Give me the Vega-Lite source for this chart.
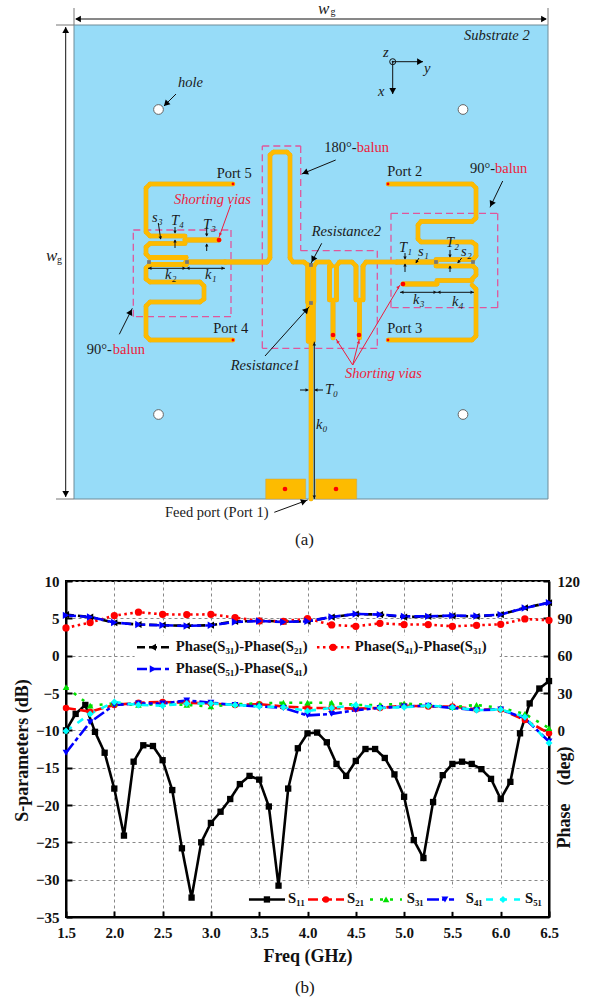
{"$schema":"https://vega.github.io/schema/vega-lite/v6.json","background":"white","padding":{"left":12,"top":0,"right":0,"bottom":0},"autosize":{"type":"pad"},"spacing":0,"bounds":"flush","config":{"view":{"stroke":null},"font":"Liberation Serif"},
"datasets":{
"board":[{"u":74,"v":25,"u2":548,"v2":499}],
"pads":[{"u":265.7,"v":479,"u2":305.7,"v2":499},{"u":315.7,"v":479,"u2":356.7,"v2":499}],
"boxes":[{"u":133.3,"v":230,"u2":231,"v2":230},{"u":231,"v":230,"u2":231,"v2":316.7},{"u":231,"v":316.7,"u2":133.3,"v2":316.7},{"u":133.3,"v":316.7,"u2":133.3,"v2":230},{"u":262.3,"v":146,"u2":300.7,"v2":146},{"u":300.7,"v":146,"u2":300.7,"v2":250.7},{"u":300.7,"v":250.7,"u2":377.3,"v2":250.7},{"u":377.3,"v":250.7,"u2":377.3,"v2":348.3},{"u":377.3,"v":348.3,"u2":262.3,"v2":348.3},{"u":262.3,"v":348.3,"u2":262.3,"v2":146},{"u":391,"v":213.3,"u2":497.7,"v2":213.3},{"u":497.7,"v":213.3,"u2":497.7,"v2":307.7},{"u":497.7,"v":307.7,"u2":391,"v2":307.7},{"u":391,"v":307.7,"u2":391,"v2":213.3}],
"wires":[
{"k":"t","u":233,"v":184,"u2":150,"v2":184},{"k":"t","u":150,"v":184,"u2":146,"v2":188},{"k":"t","u":146,"v":188,"u2":146,"v2":232},{"k":"t","u":146,"v":232,"u2":150,"v2":236},
{"k":"w","u":150,"v":236,"u2":185,"v2":236},{"k":"m","u":185,"v":240,"u2":219,"v2":240},{"k":"w","u":150,"v":243.5,"u2":185,"v2":243.5},
{"k":"t","u":150,"v":243.5,"u2":146,"v2":247},{"k":"t","u":146,"v":247,"u2":146,"v2":254},{"k":"t","u":146,"v":254,"u2":150,"v2":258},{"k":"m","u":150,"v":257.5,"u2":186,"v2":257.5},
{"k":"s","u":186,"v":262,"u2":225,"v2":262},{"k":"s","u":150,"v":264.5,"u2":186,"v2":264.5},
{"k":"t","u":150,"v":264.5,"u2":146,"v2":268},{"k":"t","u":146,"v":268,"u2":146,"v2":279},{"k":"t","u":146,"v":279,"u2":150,"v2":282},{"k":"t","u":150,"v":282,"u2":200,"v2":282},{"k":"t","u":200,"v":282,"u2":204,"v2":286},{"k":"t","u":204,"v":286,"u2":204,"v2":299},{"k":"t","u":204,"v":299,"u2":200,"v2":302},{"k":"t","u":200,"v":302,"u2":150,"v2":302},{"k":"t","u":150,"v":302,"u2":146,"v2":306},{"k":"t","u":146,"v":306,"u2":146,"v2":336},{"k":"t","u":146,"v":336,"u2":150,"v2":340},{"k":"t","u":150,"v":340,"u2":233,"v2":340},
{"k":"m","u":225,"v":262,"u2":267,"v2":262},{"k":"t","u":267,"v":262,"u2":270,"v2":258},{"k":"t","u":270,"v":258,"u2":270,"v2":155},{"k":"t","u":270,"v":155,"u2":273.5,"v2":152},{"k":"t","u":273.5,"v":152,"u2":287,"v2":152},{"k":"t","u":287,"v":152,"u2":290,"v2":155},{"k":"t","u":290,"v":155,"u2":290,"v2":258},{"k":"t","u":290,"v":258,"u2":293,"v2":262},{"k":"t","u":293,"v":262,"u2":304,"v2":262},{"k":"t","u":304,"v":262,"u2":307.5,"v2":265},
{"k":"s","u":308,"v":265,"u2":308,"v2":302},{"k":"s","u":313.5,"v":266,"u2":313.5,"v2":302},{"k":"s","u":308.5,"v":303,"u2":308.5,"v2":341},{"k":"s","u":313,"v":303,"u2":313,"v2":341},{"k":"t","u":311,"v":341,"u2":311,"v2":499},
{"k":"t","u":314,"v":266,"u2":317,"v2":262},{"k":"t","u":317,"v":262,"u2":329,"v2":262},{"k":"t","u":329,"v":262,"u2":332,"v2":266},
{"k":"w","u":329.5,"v":266,"u2":329.5,"v2":300},{"k":"w","u":336.5,"v":266,"u2":336.5,"v2":300},{"k":"w","u":333,"v":300,"u2":333,"v2":338},
{"k":"t","u":336.5,"v":266,"u2":339.5,"v2":262},{"k":"t","u":339.5,"v":262,"u2":352,"v2":262},{"k":"t","u":352,"v":262,"u2":356,"v2":266},
{"k":"w","u":356,"v":266,"u2":356,"v2":300},{"k":"w","u":363,"v":266,"u2":363,"v2":300},{"k":"w","u":359.5,"v":300,"u2":359.5,"v2":338},
{"k":"t","u":363,"v":266,"u2":366,"v2":262},{"k":"t","u":366,"v":262,"u2":397,"v2":262},{"k":"s","u":397,"v":262,"u2":436,"v2":262},
{"k":"w","u":436,"v":259.5,"u2":473,"v2":259.5},{"k":"w","u":436,"v":266,"u2":473,"v2":266},
{"k":"t","u":473,"v":259.5,"u2":476,"v2":256},{"k":"t","u":476,"v":256,"u2":476,"v2":245},{"k":"t","u":476,"v":245,"u2":472,"v2":242},{"k":"t","u":472,"v":242,"u2":421,"v2":242},{"k":"t","u":421,"v":242,"u2":418,"v2":239},{"k":"t","u":418,"v":239,"u2":418,"v2":225},{"k":"t","u":418,"v":225,"u2":421,"v2":221.5},{"k":"t","u":421,"v":221.5,"u2":472,"v2":221.5},{"k":"t","u":472,"v":221.5,"u2":476,"v2":218},{"k":"t","u":476,"v":218,"u2":476,"v2":188},{"k":"t","u":476,"v":188,"u2":472,"v2":184},{"k":"t","u":472,"v":184,"u2":388,"v2":184},
{"k":"t","u":473,"v":266,"u2":476,"v2":269},{"k":"t","u":476,"v":269,"u2":476,"v2":275},{"k":"t","u":476,"v":275,"u2":472,"v2":279},{"k":"w","u":472,"v":280.5,"u2":437,"v2":280.5},{"k":"m","u":437,"v":284,"u2":403,"v2":284},{"k":"t","u":472,"v":285,"u2":476,"v2":289},{"k":"t","u":476,"v":289,"u2":476,"v2":336},{"k":"t","u":476,"v":336,"u2":472,"v2":340},{"k":"t","u":472,"v":340,"u2":388,"v2":340}],
"leaders":[
{"c":"g","u":74,"v":8,"u2":74,"v2":25},{"c":"g","u":548,"v":8,"u2":548,"v2":25},{"c":"g","u":56,"v":25,"u2":74,"v2":25},{"c":"g","u":56,"v":499,"u2":74,"v2":499},
{"c":"b","u":76,"v":19,"u2":546,"v2":19},{"c":"b","u":65.7,"v":27,"u2":65.7,"v2":497},
{"c":"b","u":176,"v":94,"u2":164,"v2":106},{"c":"b","u":335.7,"v":160,"u2":301.7,"v2":174},{"c":"b","u":502.7,"v":181,"u2":490,"v2":207.3},{"c":"b","u":119.3,"v":334.3,"u2":132.3,"v2":308.3},{"c":"b","u":321.7,"v":243.3,"u2":311,"v2":263.3},{"c":"b","u":265,"v":356,"u2":309.3,"v2":306.7},{"c":"b","u":274.3,"v":512.3,"u2":307.7,"v2":500},
{"c":"b","u":392.7,"v":61.7,"u2":423,"v2":61.7},{"c":"b","u":392.7,"v":61.7,"u2":392.7,"v2":94},
{"c":"b","u":148,"v":268.3,"u2":186,"v2":268.3},{"c":"b","u":186,"v":268.3,"u2":225,"v2":268.3},{"c":"b","u":400,"v":292.3,"u2":437,"v2":292.3},{"c":"b","u":437,"v":292.3,"u2":474,"v2":292.3},
{"c":"b","u":175,"v":227,"u2":175,"v2":233},{"c":"b","u":175,"v":248,"u2":175,"v2":240},{"c":"b","u":206.7,"v":227,"u2":206.7,"v2":236},{"c":"b","u":206.7,"v":251,"u2":206.7,"v2":244},{"c":"b","u":158.3,"v":223,"u2":160.7,"v2":239},
{"c":"b","u":405,"v":253,"u2":405,"v2":259},{"c":"b","u":405,"v":272,"u2":405,"v2":264},{"c":"b","u":419,"v":258,"u2":416,"v2":263},{"c":"b","u":450,"v":250,"u2":450,"v2":257},{"c":"b","u":450,"v":272,"u2":450,"v2":266},{"c":"b","u":461.7,"v":258,"u2":457.7,"v2":263},
{"c":"b","u":300,"v":390,"u2":308.3,"v2":390},{"c":"b","u":323,"v":390,"u2":315,"v2":390},{"c":"b","u":314.3,"v":341.7,"u2":314.3,"v2":499},
{"c":"r","u":230.7,"v":205,"u2":219,"v2":237.3},{"c":"r","u":352.7,"v":365,"u2":336,"v2":339},{"c":"r","u":352.7,"v":365,"u2":359.3,"v2":339},{"c":"r","u":352.7,"v":365,"u2":400,"v2":285}],
"bigHeads":[{"u":78,"v":19,"a":270},{"u":544,"v":19,"a":90},{"u":65.7,"v":30,"a":0},{"u":65.7,"v":494,"a":180},{"u":166,"v":104,"a":225},{"u":305,"v":172.6,"a":247.6},{"u":491.5,"v":204,"a":206},{"u":130.5,"v":312,"a":26.6},{"u":313,"v":259.5,"a":208},{"u":306.5,"v":309.8,"a":42},{"u":304,"v":501.4,"a":70},{"u":420,"v":61.7,"a":90},{"u":392.7,"v":91,"a":180}],
"smallHeads":[{"c":"b","u":150,"v":268.3,"a":270},{"c":"b","u":184,"v":268.3,"a":90},{"c":"b","u":188,"v":268.3,"a":270},{"c":"b","u":223,"v":268.3,"a":90},{"c":"b","u":402,"v":292.3,"a":270},{"c":"b","u":435,"v":292.3,"a":90},{"c":"b","u":439,"v":292.3,"a":270},{"c":"b","u":472,"v":292.3,"a":90},{"c":"b","u":175,"v":232,"a":180},{"c":"b","u":175,"v":241,"a":0},{"c":"b","u":206.7,"v":235,"a":180},{"c":"b","u":206.7,"v":245,"a":0},{"c":"b","u":160.5,"v":238,"a":172},{"c":"b","u":405,"v":258,"a":180},{"c":"b","u":405,"v":265,"a":0},{"c":"b","u":416.5,"v":262,"a":211},{"c":"b","u":450,"v":256,"a":180},{"c":"b","u":450,"v":267,"a":0},{"c":"b","u":458.5,"v":262,"a":219},{"c":"b","u":307,"v":390,"a":90},{"c":"b","u":316,"v":390,"a":270},{"c":"b","u":314.3,"v":344,"a":0},{"c":"b","u":314.3,"v":497,"a":180},{"c":"r","u":220,"v":234.5,"a":200},{"c":"r","u":337.5,"v":341.5,"a":327},{"c":"r","u":358.8,"v":342,"a":14},{"c":"r","u":398.5,"v":287,"a":41}],
"holes":[{"u":158.5,"v":109.5},{"u":463,"v":109.5},{"u":158.5,"v":414.5},{"u":463,"v":414.5}],
"vias":[{"k":"p","u":233,"v":184},{"k":"p","u":388,"v":184},{"k":"p","u":233,"v":340},{"k":"p","u":388,"v":340},{"k":"v","u":219,"v":240},{"k":"v","u":403,"v":284},{"k":"v","u":333,"v":335},{"k":"v","u":359,"v":335},{"k":"v","u":285,"v":489},{"k":"v","u":336,"v":489}],
"resistors":[{"u":149,"v":262},{"u":187,"v":262},{"u":311,"v":265},{"u":311,"v":303},{"u":436,"v":262},{"u":473,"v":262}],
"origin":[{"u":392.7,"v":61.7}],
"plainText":[{"u":216.7,"v":174,"t":"Port 5"},{"u":387.3,"v":172.3,"t":"Port 2"},{"u":213.3,"v":329,"t":"Port 4"},{"u":387.3,"v":329,"t":"Port 3"},{"u":324.3,"v":148,"t":"180°-"},{"u":470,"v":169,"t":"90°-"},{"u":86.7,"v":350,"t":"90°-"},{"u":165,"v":513,"t":"Feed port (Port 1)"}],
"captionA":[{"u":295,"v":540,"t":"(a)"}],
"redText":[{"u":356.7,"v":148,"t":"balun"},{"u":495,"v":169,"t":"balun"},{"u":112.7,"v":350,"t":"balun"}],
"italicText":[{"u":178,"v":83,"t":"hole"},{"u":464,"v":36,"t":"Substrate 2"},{"u":383,"v":52.7,"t":"z"},{"u":424,"v":69.3,"t":"y"},{"u":378,"v":92.3,"t":"x"},{"u":311.7,"v":231.7,"t":"Resistance2"},{"u":230.7,"v":365.7,"t":"Resistance1"},{"u":152,"v":218,"t":"s₃"},{"u":171,"v":221,"t":"T₄"},{"u":203,"v":225,"t":"T₃"},{"u":165,"v":275,"t":"k₂"},{"u":205,"v":275,"t":"k₁"},{"u":399,"v":248,"t":"T₁"},{"u":418,"v":252,"t":"s₁"},{"u":446,"v":243,"t":"T₂"},{"u":461,"v":252,"t":"s₂"},{"u":413,"v":300,"t":"k₃"},{"u":452,"v":302,"t":"k₄"},{"u":325,"v":390,"t":"T₀"},{"u":316,"v":425,"t":"k₀"}],
"bigItalic":[{"u":318,"v":9,"t":"w"},{"u":46,"v":256,"t":"w"}],
"redItalicText":[{"u":174,"v":200,"t":"Shorting vias"},{"u":345,"v":374,"t":"Shorting vias"}],
"subText":[{"u":330.5,"v":12,"t":"g"},{"u":57,"v":260,"t":"g"}],
"curves":[
{"series":"S11","freq":1.5,"value":-10},{"series":"S11","freq":1.6,"value":-7.8},{"series":"S11","freq":1.7,"value":-6.6},{"series":"S11","freq":1.8,"value":-10.2},{"series":"S11","freq":1.9,"value":-13},{"series":"S11","freq":2.0,"value":-17.8},{"series":"S11","freq":2.1,"value":-24.1},{"series":"S11","freq":2.2,"value":-14.2},{"series":"S11","freq":2.3,"value":-12},{"series":"S11","freq":2.4,"value":-12.1},{"series":"S11","freq":2.5,"value":-14},{"series":"S11","freq":2.6,"value":-18},{"series":"S11","freq":2.7,"value":-25.8},{"series":"S11","freq":2.8,"value":-32.4},{"series":"S11","freq":2.9,"value":-25},{"series":"S11","freq":3.0,"value":-22.4},{"series":"S11","freq":3.1,"value":-20.9},{"series":"S11","freq":3.2,"value":-19.2},{"series":"S11","freq":3.3,"value":-17.2},{"series":"S11","freq":3.4,"value":-16.1},{"series":"S11","freq":3.5,"value":-16.6},{"series":"S11","freq":3.6,"value":-20.2},{"series":"S11","freq":3.7,"value":-30.8},{"series":"S11","freq":3.8,"value":-17.8},{"series":"S11","freq":3.9,"value":-12.4},{"series":"S11","freq":4.0,"value":-10.4},{"series":"S11","freq":4.1,"value":-10.3},{"series":"S11","freq":4.2,"value":-11.6},{"series":"S11","freq":4.3,"value":-14.5},{"series":"S11","freq":4.4,"value":-16.1},{"series":"S11","freq":4.5,"value":-14.1},{"series":"S11","freq":4.6,"value":-12.5},{"series":"S11","freq":4.7,"value":-12.5},{"series":"S11","freq":4.8,"value":-13.7},{"series":"S11","freq":4.9,"value":-15.9},{"series":"S11","freq":5.0,"value":-18.9},{"series":"S11","freq":5.1,"value":-24.7},{"series":"S11","freq":5.2,"value":-27.1},{"series":"S11","freq":5.3,"value":-19.6},{"series":"S11","freq":5.4,"value":-16},{"series":"S11","freq":5.5,"value":-14.5},{"series":"S11","freq":5.6,"value":-14.2},{"series":"S11","freq":5.7,"value":-14.5},{"series":"S11","freq":5.8,"value":-15.2},{"series":"S11","freq":5.9,"value":-16.5},{"series":"S11","freq":6.0,"value":-19.2},{"series":"S11","freq":6.1,"value":-16.9},{"series":"S11","freq":6.2,"value":-10.4},{"series":"S11","freq":6.3,"value":-6.4},{"series":"S11","freq":6.4,"value":-4.4},{"series":"S11","freq":6.5,"value":-3.4},
{"series":"S21","freq":1.5,"value":-7},{"series":"S21","freq":1.75,"value":-7.5},{"series":"S21","freq":2.0,"value":-6.6},{"series":"S21","freq":2.25,"value":-6.3},{"series":"S21","freq":2.5,"value":-6.2},{"series":"S21","freq":2.75,"value":-6.3},{"series":"S21","freq":3.0,"value":-6.4},{"series":"S21","freq":3.25,"value":-6.6},{"series":"S21","freq":3.5,"value":-6.5},{"series":"S21","freq":3.75,"value":-6.8},{"series":"S21","freq":4.0,"value":-7},{"series":"S21","freq":4.25,"value":-7},{"series":"S21","freq":4.5,"value":-7.1},{"series":"S21","freq":4.75,"value":-7},{"series":"S21","freq":5.0,"value":-6.7},{"series":"S21","freq":5.25,"value":-6.8},{"series":"S21","freq":5.5,"value":-6.8},{"series":"S21","freq":5.75,"value":-7.2},{"series":"S21","freq":6.0,"value":-7.2},{"series":"S21","freq":6.25,"value":-8.6},{"series":"S21","freq":6.5,"value":-10.4},
{"series":"S31","freq":1.5,"value":-4.2},{"series":"S31","freq":1.75,"value":-6.7},{"series":"S31","freq":2.0,"value":-6.4},{"series":"S31","freq":2.25,"value":-6.6},{"series":"S31","freq":2.5,"value":-6.5},{"series":"S31","freq":2.75,"value":-6.6},{"series":"S31","freq":3.0,"value":-6.8},{"series":"S31","freq":3.25,"value":-6.5},{"series":"S31","freq":3.5,"value":-6.4},{"series":"S31","freq":3.75,"value":-6.3},{"series":"S31","freq":4.0,"value":-6.3},{"series":"S31","freq":4.25,"value":-6.3},{"series":"S31","freq":4.5,"value":-6.6},{"series":"S31","freq":4.75,"value":-6.6},{"series":"S31","freq":5.0,"value":-6.4},{"series":"S31","freq":5.25,"value":-6.6},{"series":"S31","freq":5.5,"value":-6.9},{"series":"S31","freq":5.75,"value":-6.6},{"series":"S31","freq":6.0,"value":-7},{"series":"S31","freq":6.25,"value":-7.8},{"series":"S31","freq":6.5,"value":-9.7},
{"series":"S41","freq":1.5,"value":-13},{"series":"S41","freq":1.75,"value":-8.9},{"series":"S41","freq":2.0,"value":-6.6},{"series":"S41","freq":2.25,"value":-6.4},{"series":"S41","freq":2.5,"value":-6.4},{"series":"S41","freq":2.75,"value":-6},{"series":"S41","freq":3.0,"value":-6.3},{"series":"S41","freq":3.25,"value":-6.6},{"series":"S41","freq":3.5,"value":-6.8},{"series":"S41","freq":3.75,"value":-7},{"series":"S41","freq":4.0,"value":-8},{"series":"S41","freq":4.25,"value":-7.8},{"series":"S41","freq":4.5,"value":-7.3},{"series":"S41","freq":4.75,"value":-7},{"series":"S41","freq":5.0,"value":-6.8},{"series":"S41","freq":5.25,"value":-6.7},{"series":"S41","freq":5.5,"value":-7},{"series":"S41","freq":5.75,"value":-7.3},{"series":"S41","freq":6.0,"value":-7.2},{"series":"S41","freq":6.25,"value":-8.4},{"series":"S41","freq":6.5,"value":-11.5},
{"series":"S51","freq":1.5,"value":-10.1},{"series":"S51","freq":1.75,"value":-7.8},{"series":"S51","freq":2.0,"value":-6.2},{"series":"S51","freq":2.25,"value":-6.6},{"series":"S51","freq":2.5,"value":-6.7},{"series":"S51","freq":2.75,"value":-6.4},{"series":"S51","freq":3.0,"value":-6.4},{"series":"S51","freq":3.25,"value":-6.6},{"series":"S51","freq":3.5,"value":-6.8},{"series":"S51","freq":3.75,"value":-6.9},{"series":"S51","freq":4.0,"value":-7.4},{"series":"S51","freq":4.25,"value":-7},{"series":"S51","freq":4.5,"value":-6.6},{"series":"S51","freq":4.75,"value":-7},{"series":"S51","freq":5.0,"value":-6.9},{"series":"S51","freq":5.25,"value":-6.7},{"series":"S51","freq":5.5,"value":-6.9},{"series":"S51","freq":5.75,"value":-7.3},{"series":"S51","freq":6.0,"value":-7.2},{"series":"S51","freq":6.25,"value":-8.2},{"series":"S51","freq":6.5,"value":-11.7}],
"phases":[
{"series":"P31","freq":1.5,"deg":93},{"series":"P31","freq":1.75,"deg":91},{"series":"P31","freq":2.0,"deg":86.5},{"series":"P31","freq":2.25,"deg":85},{"series":"P31","freq":2.5,"deg":84.5},{"series":"P31","freq":2.75,"deg":84},{"series":"P31","freq":3.0,"deg":84.5},{"series":"P31","freq":3.25,"deg":87.5},{"series":"P31","freq":3.5,"deg":88},{"series":"P31","freq":3.75,"deg":87.5},{"series":"P31","freq":4.0,"deg":87.5},{"series":"P31","freq":4.25,"deg":91},{"series":"P31","freq":4.5,"deg":93.5},{"series":"P31","freq":4.75,"deg":93},{"series":"P31","freq":5.0,"deg":91},{"series":"P31","freq":5.25,"deg":91.5},{"series":"P31","freq":5.5,"deg":92},{"series":"P31","freq":5.75,"deg":91.5},{"series":"P31","freq":6.0,"deg":93},{"series":"P31","freq":6.25,"deg":98.5},{"series":"P31","freq":6.5,"deg":102.5},
{"series":"P41","freq":1.5,"deg":82.3},{"series":"P41","freq":1.75,"deg":86.6},{"series":"P41","freq":2.0,"deg":92.2},{"series":"P41","freq":2.25,"deg":94.9},{"series":"P41","freq":2.5,"deg":93.2},{"series":"P41","freq":2.75,"deg":93},{"series":"P41","freq":3.0,"deg":93.2},{"series":"P41","freq":3.25,"deg":90.6},{"series":"P41","freq":3.5,"deg":87.9},{"series":"P41","freq":3.75,"deg":87.6},{"series":"P41","freq":4.0,"deg":89.8},{"series":"P41","freq":4.25,"deg":84.7},{"series":"P41","freq":4.5,"deg":83.6},{"series":"P41","freq":4.75,"deg":86},{"series":"P41","freq":5.0,"deg":85},{"series":"P41","freq":5.25,"deg":85},{"series":"P41","freq":5.5,"deg":83.6},{"series":"P41","freq":5.75,"deg":84.4},{"series":"P41","freq":6.0,"deg":85.2},{"series":"P41","freq":6.25,"deg":89.5},{"series":"P41","freq":6.5,"deg":88.4},
{"series":"P51","freq":1.5,"deg":92.4},{"series":"P51","freq":1.75,"deg":91.1},{"series":"P51","freq":2.0,"deg":86.6},{"series":"P51","freq":2.25,"deg":85},{"series":"P51","freq":2.5,"deg":84.4},{"series":"P51","freq":2.75,"deg":83.9},{"series":"P51","freq":3.0,"deg":84.4},{"series":"P51","freq":3.25,"deg":87.1},{"series":"P51","freq":3.5,"deg":87.9},{"series":"P51","freq":3.75,"deg":87.1},{"series":"P51","freq":4.0,"deg":87.6},{"series":"P51","freq":4.25,"deg":91.1},{"series":"P51","freq":4.5,"deg":93.5},{"series":"P51","freq":4.75,"deg":93},{"series":"P51","freq":5.0,"deg":91.6},{"series":"P51","freq":5.25,"deg":91.6},{"series":"P51","freq":5.5,"deg":92.2},{"series":"P51","freq":5.75,"deg":91.9},{"series":"P51","freq":6.0,"deg":93},{"series":"P51","freq":6.25,"deg":98.3},{"series":"P51","freq":6.5,"deg":102.6}],
"legendBoxes":[{"f":2.21,"f2":5.99,"d":2.7,"d2":-3.3},{"f":3.37,"f2":6.46,"d":-31.1,"d2":-34.3}],
"legendLines":[{"series":"P31","f":2.235,"f2":2.566,"d":1.12},{"series":"P41","f":4.098,"f2":4.44,"d":1.12},{"series":"P51","f":2.235,"f2":2.566,"d":-1.78},{"series":"S11","f":3.394,"f2":3.767,"d":-32.65},{"series":"S21","f":4.005,"f2":4.378,"d":-32.65},{"series":"S31","f":4.647,"f2":4.978,"d":-32.65},{"series":"S41","f":5.237,"f2":5.517,"d":-32.65},{"series":"S51","f":5.848,"f2":6.2,"d":-32.65}],
"legendMarks":[{"series":"P31","f":2.4,"d":1.12},{"series":"P41","f":4.264,"d":1.12},{"series":"P51","f":2.4,"d":-1.78},{"series":"S11","f":3.58,"d":-32.65},{"series":"S21","f":4.19,"d":-32.65},{"series":"S31","f":4.813,"d":-32.65},{"series":"S41","f":5.423,"d":-32.65},{"series":"S51","f":6.024,"d":-32.65}],
"legendText":[{"f":2.636,"d":1.12,"t":"Phase(S₃₁)-Phase(S₂₁)"},{"f":4.49,"d":1.12,"t":"Phase(S₄₁)-Phase(S₃₁)"},{"f":2.636,"d":-1.78,"t":"Phase(S₅₁)-Phase(S₄₁)"},{"f":3.798,"d":-32.65,"t":"S₁₁"},{"f":4.41,"d":-32.65,"t":"S₂₁"},{"f":5.027,"d":-32.65,"t":"S₃₁"},{"f":5.638,"d":-32.65,"t":"S₄₁"},{"f":6.252,"d":-32.65,"t":"S₅₁"}],
"caption":[{"f":3.87,"d":-44.45,"t":"(b)"}]
},
"resolve":{"scale":{"color":"independent","strokeWidth":"independent","size":"independent","shape":"independent","strokeDash":"independent"}},
"vconcat":[
{"width":483,"height":581,"view":{"stroke":null},
"encoding":{"x":{"field":"u","type":"quantitative","axis":null,"scale":{"domain":[66,549],"nice":false,"zero":false}},"y":{"field":"v","type":"quantitative","axis":null,"scale":{"domain":[581,0],"nice":false,"zero":false}}},
"layer":[
{"data":{"name":"board"},"mark":{"type":"rect","fill":"#97DCF8","stroke":"#6f8c99","strokeWidth":1,"clip":false},"encoding":{"x2":{"field":"u2"},"y2":{"field":"v2"}}},
{"data":{"name":"pads"},"mark":{"type":"rect","fill":"#FDBB00","stroke":"#c9a24a","strokeWidth":0.5},"encoding":{"x2":{"field":"u2"},"y2":{"field":"v2"}}},
{"data":{"name":"boxes"},"mark":{"type":"rule","stroke":"#E0569B","strokeWidth":1.3,"strokeDash":[7,4]},"encoding":{"x2":{"field":"u2"},"y2":{"field":"v2"}}},
{"data":{"name":"wires"},"mark":{"type":"rule","stroke":"#b9a060","strokeCap":"round"},"encoding":{"x2":{"field":"u2"},"y2":{"field":"v2"},"strokeWidth":{"field":"k","type":"nominal","legend":null,"scale":{"domain":["t","w","m","s"],"range":[4.4,5.2,3.4,2.4]}}}},
{"data":{"name":"wires"},"mark":{"type":"rule","stroke":"#FDBB00","strokeCap":"round"},"encoding":{"x2":{"field":"u2"},"y2":{"field":"v2"},"strokeWidth":{"field":"k","type":"nominal","legend":null,"scale":{"domain":["t","w","m","s"],"range":[3.4,4.2,2.4,1.4]}}}},
{"data":{"name":"resistors"},"mark":{"type":"point","shape":"square","filled":true,"color":"#777777","opacity":1,"size":14}},
{"data":{"name":"leaders"},"mark":{"type":"rule","strokeWidth":1},"encoding":{"x2":{"field":"u2"},"y2":{"field":"v2"},"color":{"field":"c","type":"nominal","legend":null,"scale":{"domain":["g","b","r"],"range":["#777777","#111111","#EE1C3C"]}}}},
{"data":{"name":"bigHeads"},"mark":{"type":"point","shape":"triangle-up","filled":true,"color":"#000000","opacity":1,"size":45},"encoding":{"angle":{"field":"a","type":"quantitative","scale":null}}},
{"data":{"name":"smallHeads"},"mark":{"type":"point","shape":"triangle-up","filled":true,"opacity":1,"size":12},"encoding":{"angle":{"field":"a","type":"quantitative","scale":null},"color":{"field":"c","type":"nominal","legend":null,"scale":{"domain":["g","b","r"],"range":["#777777","#111111","#EE1C3C"]}}}},
{"data":{"name":"holes"},"mark":{"type":"point","shape":"circle","filled":true,"fill":"white","stroke":"#666666","strokeWidth":1,"opacity":1,"size":95}},
{"data":{"name":"vias"},"mark":{"type":"point","shape":"circle","filled":true,"color":"#FF0000","opacity":1},"encoding":{"size":{"field":"k","type":"nominal","legend":null,"scale":{"domain":["p","v"],"range":[8,22]}}}},
{"data":{"name":"origin"},"mark":{"type":"point","shape":"circle","filled":false,"color":"#111111","opacity":1,"size":36,"strokeWidth":1}},
{"data":{"name":"origin"},"mark":{"type":"point","shape":"circle","filled":true,"color":"#111111","opacity":1,"size":4}},
{"data":{"name":"plainText"},"mark":{"type":"text","align":"left","baseline":"middle","font":"Liberation Serif","fontSize":14.5,"color":"#1a1a1a"},"encoding":{"text":{"field":"t"}}},
{"data":{"name":"captionA"},"mark":{"type":"text","align":"left","baseline":"middle","font":"Liberation Serif","fontSize":17,"color":"#1a1a1a"},"encoding":{"text":{"field":"t"}}},
{"data":{"name":"redText"},"mark":{"type":"text","align":"left","baseline":"middle","font":"Liberation Serif","fontSize":14.5,"color":"#EE1C3C"},"encoding":{"text":{"field":"t"}}},
{"data":{"name":"italicText"},"mark":{"type":"text","align":"left","baseline":"middle","font":"Liberation Serif","fontStyle":"italic","fontSize":14.5,"color":"#1a1a1a"},"encoding":{"text":{"field":"t"}}},
{"data":{"name":"bigItalic"},"mark":{"type":"text","align":"left","baseline":"middle","font":"Liberation Serif","fontStyle":"italic","fontSize":17,"color":"#1a1a1a"},"encoding":{"text":{"field":"t"}}},
{"data":{"name":"redItalicText"},"mark":{"type":"text","align":"left","baseline":"middle","font":"Liberation Serif","fontStyle":"italic","fontSize":14.5,"color":"#EE1C3C"},"encoding":{"text":{"field":"t"}}},
{"data":{"name":"subText"},"mark":{"type":"text","align":"left","baseline":"middle","font":"Liberation Serif","fontSize":10,"color":"#1a1a1a"},"encoding":{"text":{"field":"t"}}}
]},
{"width":483,"height":336,"view":{"stroke":"#000000","strokeWidth":2},
"resolve":{"scale":{"y":"independent"},"axis":{"y":"independent"}},
"layer":[
{"encoding":{"x":{"field":"freq","type":"quantitative","scale":{"domain":[1.5,6.5],"nice":false,"zero":false},"axis":{"values":[1.5,2,2.5,3,3.5,4,4.5,5,5.5,6,6.5],"format":".1f","labelFlush":false,"labelOverlap":false,"title":"Freq (GHz)","titleFont":"Liberation Serif","titleFontWeight":"bold","titleFontSize":18,"titleColor":"#111111","titlePadding":7,"labelFont":"Liberation Serif","labelFontWeight":"bold","labelFontSize":15,"labelColor":"#111111","labelPadding":14,"tickSize":-6,"tickColor":"#000000","tickWidth":2,"domainColor":"#000000","domainWidth":2,"grid":true,"gridColor":"#888888","gridDash":[3,3],"gridWidth":1}},
"y":{"field":"value","type":"quantitative","scale":{"domain":[-35,10],"nice":false,"zero":false},"axis":{"values":[-35,-30,-25,-20,-15,-10,-5,0,5,10],"labelFlush":false,"labelOverlap":false,"title":"S-parameters (dB)","titleFont":"Liberation Serif","titleFontWeight":"bold","titleFontSize":18,"titleColor":"#111111","titleY":169,"titlePadding":4,"labelFont":"Liberation Serif","labelFontWeight":"bold","labelFontSize":15,"labelColor":"#111111","labelPadding":13,"tickSize":-6,"tickColor":"#000000","tickWidth":2,"domainColor":"#000000","domainWidth":2,"grid":true,"gridColor":"#888888","gridDash":[3,3],"gridWidth":1}},
"color":{"field":"series","type":"nominal","legend":null,"scale":{"domain":["S11","S21","S31","S41","S51","P31","P41","P51"],"range":["#000000","#FF0000","#00E000","#0000FF","#00FFFF","#000000","#FF0000","#0000FF"]}},
"strokeDash":{"field":"series","type":"nominal","legend":null,"scale":{"domain":["S11","S21","S31","S41","S51","P31","P41","P51"],"range":[[1,0],[10,4],[3,7],[12,3,4,3],[7,7],[8,4],[2.5,3.5],[10,4]]}}},
"layer":[
{"data":{"name":"legendBoxes"},"mark":{"type":"rect","fill":"white"},"encoding":{"x":{"field":"f","type":"quantitative"},"x2":{"field":"f2"},"y":{"field":"d","type":"quantitative"},"y2":{"field":"d2"},"color":{"value":"white"},"strokeDash":{"value":[1,0]}}},
{"data":{"name":"curves"},"mark":{"type":"line","strokeWidth":2.6}},
{"data":{"name":"curves"},"mark":{"type":"point","filled":true,"opacity":1},"encoding":{"strokeDash":{"value":[1,0]},"size":{"field":"series","type":"nominal","legend":null,"scale":{"domain":["S11","S21","S31","S41","S51","P31","P41","P51"],"range":[40,55,70,70,90,60,70,80]}},"shape":{"field":"series","type":"nominal","legend":null,"scale":{"domain":["S11","S21","S31","S41","S51","P31","P41","P51"],"range":["square","circle","triangle-up","triangle-down","diamond","triangle-left","circle","triangle-right"]}}}},
{"data":{"name":"legendLines"},"mark":{"type":"rule","strokeWidth":2.6},"encoding":{"x":{"field":"f","type":"quantitative"},"x2":{"field":"f2"},"y":{"field":"d","type":"quantitative"}}},
{"data":{"name":"legendMarks"},"mark":{"type":"point","filled":true,"opacity":1},"encoding":{"x":{"field":"f","type":"quantitative"},"y":{"field":"d","type":"quantitative"},"strokeDash":{"value":[1,0]},"size":{"field":"series","type":"nominal","legend":null,"scale":{"domain":["S11","S21","S31","S41","S51","P31","P41","P51"],"range":[40,55,70,70,90,60,70,80]}},"shape":{"field":"series","type":"nominal","legend":null,"scale":{"domain":["S11","S21","S31","S41","S51","P31","P41","P51"],"range":["square","circle","triangle-up","triangle-down","diamond","triangle-left","circle","triangle-right"]}}}},
{"data":{"name":"legendText"},"mark":{"type":"text","align":"left","baseline":"middle","font":"Liberation Serif","fontWeight":"bold","fontSize":14.7,"color":"#111111"},"encoding":{"x":{"field":"f","type":"quantitative"},"y":{"field":"d","type":"quantitative"},"text":{"field":"t"},"color":{"value":"#111111"},"strokeDash":{"value":[1,0]}}},
{"data":{"name":"caption"},"mark":{"type":"text","align":"left","baseline":"middle","font":"Liberation Serif","fontSize":17,"color":"#111111"},"encoding":{"x":{"field":"f","type":"quantitative"},"y":{"field":"d","type":"quantitative"},"text":{"field":"t"},"color":{"value":"#111111"},"strokeDash":{"value":[1,0]}}}
]},
{"data":{"name":"phases"},"encoding":{"x":{"field":"freq","type":"quantitative","scale":{"domain":[1.5,6.5],"nice":false,"zero":false}},
"y":{"field":"deg","type":"quantitative","scale":{"domain":[-150,120],"nice":false,"zero":false},"axis":{"orient":"right","values":[0,30,60,90,120],"labelFlush":false,"labelOverlap":false,"title":"Phase\u00a0\u00a0\u00a0\u00a0(deg)","titleFont":"Liberation Serif","titleFontWeight":"bold","titleFontSize":18,"titleColor":"#111111","titleAngle":270,"titleY":216,"titleX":24,"labelFont":"Liberation Serif","labelFontWeight":"bold","labelFontSize":15,"labelColor":"#111111","labelPadding":14,"tickSize":-6,"tickColor":"#000000","tickWidth":2,"domainColor":"#000000","domainWidth":2,"grid":false}},
"color":{"field":"series","type":"nominal","legend":null,"scale":{"domain":["S11","S21","S31","S41","S51","P31","P41","P51"],"range":["#000000","#FF0000","#00E000","#0000FF","#00FFFF","#000000","#FF0000","#0000FF"]}},
"strokeDash":{"field":"series","type":"nominal","legend":null,"scale":{"domain":["S11","S21","S31","S41","S51","P31","P41","P51"],"range":[[1,0],[10,4],[3,7],[12,3,4,3],[7,7],[8,4],[2.5,3.5],[10,4]]}}},
"layer":[
{"mark":{"type":"line","strokeWidth":2.6}},
{"mark":{"type":"point","filled":true,"opacity":1},"encoding":{"strokeDash":{"value":[1,0]},"size":{"field":"series","type":"nominal","legend":null,"scale":{"domain":["S11","S21","S31","S41","S51","P31","P41","P51"],"range":[40,55,70,70,90,60,70,80]}},"shape":{"field":"series","type":"nominal","legend":null,"scale":{"domain":["S11","S21","S31","S41","S51","P31","P41","P51"],"range":["square","circle","triangle-up","triangle-down","diamond","triangle-left","circle","triangle-right"]}}}}
]}
]}
]}
